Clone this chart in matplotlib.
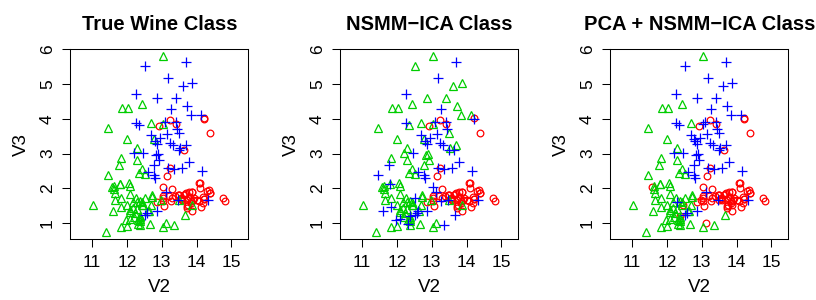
import numpy as np
import matplotlib
matplotlib.use('Agg')
import matplotlib.pyplot as plt

plt.rcParams['font.family'] = ['Liberation Sans', 'DejaVu Sans']

# wine data: V2 (alcohol) and V3 (malic acid), grouped by true class
v2_c1 = [14.23, 13.2, 13.16, 14.37, 13.24, 14.2, 14.39, 14.06, 14.83, 13.86,
         14.1, 14.12, 13.75, 14.75, 14.38, 13.63, 14.3, 13.83, 14.19, 13.64,
         14.06, 12.93, 13.71, 12.85, 13.5, 13.05, 13.39, 13.3, 13.87, 14.02,
         13.73, 13.58, 13.68, 13.76, 13.51, 13.48, 13.28, 13.05, 13.07, 14.22,
         13.56, 13.41, 13.88, 13.24, 13.05, 14.21, 14.38, 13.9, 14.1, 13.94,
         13.05, 13.83, 13.82, 13.77, 13.74, 13.56, 14.22, 13.29, 13.72]
v3_c1 = [1.71, 1.78, 2.36, 1.95, 2.59, 1.76, 1.87, 2.15, 1.64, 1.35,
         2.16, 1.48, 1.73, 1.73, 1.87, 1.81, 1.92, 1.57, 1.59, 3.1,
         1.63, 3.8, 1.86, 1.6, 1.81, 2.05, 1.77, 1.72, 1.9, 1.68,
         1.5, 1.66, 1.83, 1.53, 1.8, 1.81, 1.64, 1.65, 1.5, 3.99,
         1.71, 3.84, 1.89, 3.98, 1.77, 4.04, 3.59, 1.68, 2.02, 1.73,
         1.73, 1.65, 1.75, 1.9, 1.67, 1.73, 1.7, 1.97, 1.43]
v2_c2 = [12.37, 12.33, 12.64, 13.67, 12.37, 12.17, 12.37, 13.11, 12.37, 13.34,
         12.21, 12.29, 13.86, 13.49, 12.99, 11.96, 11.66, 13.03, 11.84, 12.33,
         12.7, 12.0, 12.72, 12.08, 13.05, 11.84, 12.67, 12.16, 11.65, 11.64,
         12.08, 12.08, 12.0, 12.69, 12.29, 11.62, 12.47, 11.81, 12.29, 12.37,
         12.29, 12.08, 12.6, 12.34, 11.82, 12.51, 12.42, 12.25, 12.72, 12.22,
         11.61, 11.46, 12.52, 11.76, 11.41, 12.08, 11.03, 11.82, 12.42, 12.77,
         12.0, 11.45, 11.56, 12.42, 13.05, 11.87, 12.07, 12.43, 11.79, 12.37,
         12.04]
v3_c2 = [0.94, 1.1, 1.36, 1.25, 1.13, 1.45, 1.21, 1.01, 1.17, 0.94,
         1.19, 1.61, 1.51, 1.66, 1.67, 1.09, 1.88, 0.9, 2.89, 0.99,
         3.87, 0.92, 1.81, 1.13, 3.86, 0.89, 0.98, 1.61, 1.67, 2.06,
         1.33, 1.83, 1.51, 1.53, 2.83, 1.99, 1.52, 2.12, 1.41, 1.07,
         3.17, 2.08, 1.34, 2.45, 1.72, 1.73, 2.55, 1.73, 1.75, 1.29,
         1.35, 3.74, 2.43, 2.68, 0.74, 1.39, 1.51, 1.47, 1.61, 3.43,
         3.43, 2.4, 2.05, 4.43, 5.8, 4.31, 2.16, 1.53, 2.13, 1.63,
         4.3]
v2_c3 = [12.86, 12.88, 12.81, 12.7, 12.51, 12.6, 12.25, 12.53, 13.49, 12.84,
         12.93, 13.36, 13.52, 13.62, 12.25, 13.16, 13.88, 12.87, 13.32, 13.08,
         13.5, 12.79, 13.11, 13.23, 12.58, 13.17, 13.84, 12.45, 14.34, 13.48,
         12.36, 13.69, 12.85, 12.96, 13.78, 13.73, 13.45, 12.82, 13.58, 13.4,
         12.2, 12.77, 14.16, 13.71, 13.4, 13.27, 13.17, 14.13]
v3_c3 = [1.35, 2.99, 2.31, 3.55, 1.24, 2.46, 4.72, 5.51, 3.59, 2.96,
         2.81, 2.56, 3.17, 4.95, 3.88, 3.57, 5.04, 4.61, 3.24, 3.9,
         3.12, 2.67, 1.9, 3.3, 1.29, 5.19, 4.12, 3.03, 1.68, 1.67,
         3.83, 3.26, 3.27, 3.45, 2.76, 4.36, 3.7, 3.37, 2.58, 4.6,
         3.03, 2.39, 2.51, 5.65, 3.91, 4.28, 2.59, 4.1]

# class labels (1 = red circle, 2 = green triangle, 3 = blue plus)
true_c1 = [1] * 59
true_c2 = [2] * 71
true_c3 = [3] * 48

nsmm_c1 = [1, 1, 1, 1, 1, 1, 1, 1, 1, 1, 1, 1, 1, 1, 1, 1, 1, 1, 1, 3,
           1, 1, 1, 1, 1, 3, 1, 1, 1, 1, 1, 1, 1, 1, 1, 1, 3, 1, 1, 3,
           1, 1, 1, 1, 1, 1, 1, 1, 1, 1, 1, 1, 1, 1, 1, 1, 1, 1, 1]
nsmm_c2 = [2, 2, 2, 3, 2, 2, 3, 2, 2, 3, 2, 2, 2, 2, 2, 3, 2, 2, 2, 3,
           2, 2, 2, 3, 2, 2, 2, 2, 2, 2, 2, 2, 2, 2, 2, 2, 2, 2, 2, 2,
           2, 2, 3, 2, 2, 3, 2, 2, 2, 2, 3, 2, 2, 3, 2, 2, 2, 3, 2, 2,
           2, 3, 2, 2, 2, 2, 2, 2, 3, 2, 2]
nsmm_c3 = [3, 2, 3, 3, 3, 3, 3, 2, 2, 2, 2, 3, 2, 2, 3, 3, 2, 2, 3, 3,
           3, 2, 3, 3, 3, 3, 2, 3, 3, 3, 2, 2, 3, 3, 3, 2, 3, 3, 3, 2,
           2, 3, 3, 3, 3, 3, 3, 2]

pca_c1 = [1] * 59
pca_c2 = [2, 2, 2, 2, 2, 2, 1, 1, 2, 2, 2, 3, 1, 1, 1, 2, 2, 2, 2, 2,
          2, 2, 2, 2, 3, 2, 2, 2, 2, 2, 2, 2, 2, 2, 2, 2, 1, 2, 2, 2,
          2, 2, 2, 2, 2, 2, 2, 2, 2, 2, 2, 2, 2, 2, 2, 2, 2, 2, 2, 3,
          2, 2, 1, 2, 2, 2, 2, 2, 2, 2, 2]
pca_c3 = [3] * 48

v2 = np.array(v2_c1 + v2_c2 + v2_c3)
v3 = np.array(v3_c1 + v3_c2 + v3_c3)

panels = [('True Wine Class', true_c1 + true_c2 + true_c3),
          ('NSMM\u2212ICA Class', nsmm_c1 + nsmm_c2 + nsmm_c3),
          ('PCA + NSMM\u2212ICA Class', pca_c1 + pca_c2 + pca_c3)]

styles = {1: dict(marker='o', color='#FF0000', ms=4.8),
          2: dict(marker='^', color='#00CD00', ms=6.3),
          3: dict(marker='+', color='#0000FF', ms=7.5)}

def plotpanel(fig, i, title, labels):
    w, h = 178 / 816, 190 / 300
    ax = fig.add_axes([(70.3 + 270 * i) / 816, 60.7 / 300, w, h])
    labels = np.array(labels)
    for k in (1, 2, 3):
        st = styles[k]
        m = labels == k
        ax.plot(v2[m], v3[m], linestyle='none', marker=st['marker'], ms=st['ms'],
                mfc='none', mec=st['color'], mew=0.9)
    # R style limits with asp = 1
    ypad = 0.04 * (v3.max() - v3.min())
    ylo, yhi = v3.min() - ypad, v3.max() + ypad
    xspan = (yhi - ylo) * (w * 8.16) / (h * 3.0)
    xc = (v2.min() + v2.max()) / 2
    ax.set_xlim(xc - xspan / 2, xc + xspan / 2)
    ax.set_ylim(ylo, yhi)
    ax.set_xticks([11, 12, 13, 14, 15])
    ax.set_yticks([1, 2, 3, 4, 5, 6])
    ax.tick_params(direction='out', length=5.5, width=0.75, labelsize=12.5, pad=5.5)
    for lab in ax.get_yticklabels():
        lab.set_rotation(90)
        lab.set_va('center')
    for sp in ax.spines.values():
        sp.set_linewidth(0.75)
    ax.set_xlabel('V2', fontsize=13.5, labelpad=7)
    ax.set_ylabel('V3', fontsize=13.5, labelpad=7)
    ax.set_title(title, fontsize=14.5, fontweight='bold', pad=14)
    return ax

fig = plt.figure(figsize=(8.16, 3.0), dpi=100)
for i, (title, labels) in enumerate(panels):
    plotpanel(fig, i, title, labels)

fig.savefig('out.png', dpi=100)
